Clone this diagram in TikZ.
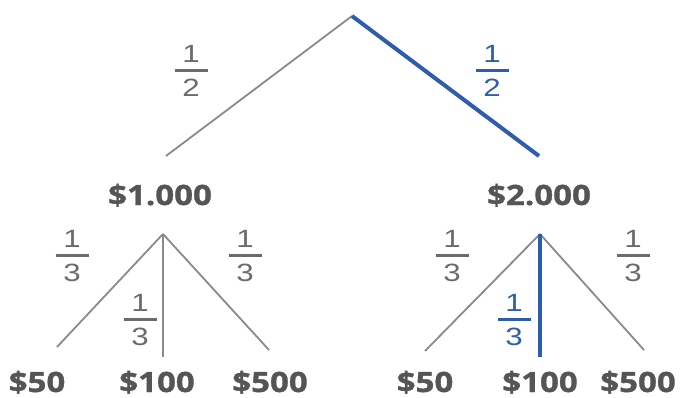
\documentclass[tikz,border=0pt]{standalone}
\usepackage{fontspec}
\setmainfont{Liberation Sans}
\newfontfamily\fracfont[FakeStretch=1.25]{Liberation Sans}
\newfontfamily\labelfont[FakeStretch=1.18, BoldFeatures={FakeBold=1.2, FakeStretch=1.18}]{Open Sans}
\usepackage{tikz}
\usetikzlibrary{positioning, calc}

\definecolor{linegray}{HTML}{8A8A8A}
\definecolor{fracgray}{HTML}{6B6B6B}
\definecolor{labgray}{HTML}{555555}
\definecolor{pathblue}{HTML}{2E5EAA}

\newcommand{\fr}[3][fracgray]{#2\\\textcolor{#1}{\rule{33pt}{3pt}}\\#3}

\begin{document}
\begin{tikzpicture}[x=1pt, y=-1pt,
    branch/.style={draw=linegray, line width=1.8pt},
    chosen/.style={draw=pathblue, line width=4pt},
    frac/.style={inner sep=0pt, align=center, text=fracgray,
        font={\fracfont\fontsize{25}{0}\selectfont\lineskip=7pt}},
    bluefrac/.style={frac, text=pathblue},
    amount/.style={inner sep=0pt, anchor=base, text=labgray,
        font={\labelfont\bfseries\fontsize{28}{28}\selectfont}}]
    \useasboundingbox (0,0) rectangle (687,398);
    % first draw
    \coordinate (top) at (352,16);
    \coordinate (endA) at (166,156);
    \coordinate (endB) at (539,156);
    \draw[branch] (top) -- (endA);
    \draw[chosen] (top) -- (endB);
    \node[frac] (pA) at (191,71) {\fr{1}{2}};
    \node[bluefrac] (pB) at (492,71) {\fr[pathblue]{1}{2}};
    \node[amount] (A) at (160,205) {\$1.000};
    \node[amount] (B) at (539,205) {\$2.000};
    % second draw, left
    \coordinate (topA) at (163,234);
    \coordinate (endA1) at (57,347);
    \coordinate (endA2) at (163,357);
    \coordinate (endA3) at (269,350);
    \draw[branch] (topA) -- (endA1);
    \draw[branch] (topA) -- (endA2);
    \draw[branch] (topA) -- (endA3);
    \node[frac] (pA1) at (72,256) {\fr{1}{3}};
    \node[frac] (pA2) at (140,320) {\fr{1}{3}};
    \node[frac] (pA3) at (245,256) {\fr{1}{3}};
    \node[amount] (A1) at (37,392) {\$50};
    \node[amount] (A2) at (157,392) {\$100};
    \node[amount] (A3) at (270,392) {\$500};
    % second draw, right
    \coordinate (topB) at (540,234);
    \coordinate (endB1) at (425,351);
    \coordinate (endB2) at (540,357);
    \coordinate (endB3) at (644,350);
    \draw[branch] (topB) -- (endB1);
    \draw[branch] (topB) -- (endB3);
    \draw[chosen] (topB) -- (endB2);
    \node[frac] (pB1) at (452,256) {\fr{1}{3}};
    \node[bluefrac] (pB2) at (514,320) {\fr[pathblue]{1}{3}};
    \node[frac] (pB3) at (633,256) {\fr{1}{3}};
    \node[amount] (B1) at (425,392) {\$50};
    \node[amount] (B2) at (540,392) {\$100};
    \node[amount] (B3) at (638,392) {\$500};
\end{tikzpicture}
\end{document}
